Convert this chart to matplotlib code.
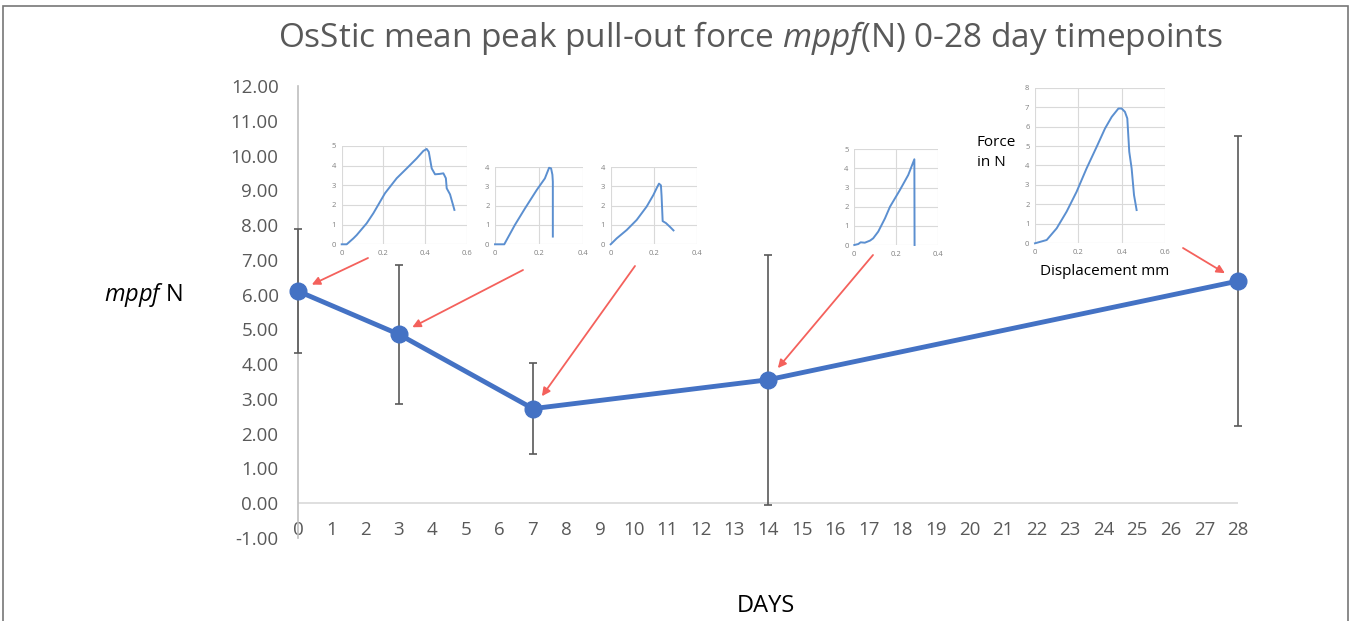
import matplotlib
matplotlib.use("Agg")
import matplotlib.pyplot as plt
from matplotlib.patches import Rectangle

plt.rcParams['font.family'] = ['Open Sans', 'DejaVu Sans']
plt.rcParams['mathtext.fontset'] = 'custom'
plt.rcParams['mathtext.it'] = 'Open Sans:italic'
plt.rcParams['mathtext.rm'] = 'Open Sans'

# ---------------- data ----------------
days = [0, 3, 7, 14, 28]
mppf = [6.10, 4.86, 2.72, 3.55, 6.39]
err = [1.78, 2.00, 1.31, 3.60, 4.17]
x_ticks = list(range(0, 29))
y_ticks = [-1, 0, 1, 2, 3, 4, 5, 6, 7, 8, 9, 10, 11, 12]

# inset force-displacement curves (displacement mm, force N)
c0_x = [0, 0.024, 0.056, 0.072, 0.12, 0.152, 0.208, 0.264, 0.312, 0.36, 0.392, 0.408, 0.418, 0.432, 0.448, 0.47, 0.488, 0.5, 0.504, 0.52, 0.541]
c0_y = [0, 0, 0.3, 0.47, 1.07, 1.58, 2.6, 3.36, 3.86, 4.37, 4.75, 4.85, 4.7, 3.86, 3.56, 3.58, 3.61, 3.36, 2.85, 2.54, 1.75]
c3_x = [0, 0.042, 0.09, 0.136, 0.189, 0.226, 0.245, 0.254, 0.26, 0.262, 0.262]
c3_y = [0, 0, 1.0, 1.86, 2.81, 3.41, 3.96, 3.93, 3.6, 3.24, 0.4]
c7_x = [0, 0.028, 0.074, 0.12, 0.166, 0.197, 0.212, 0.223, 0.232, 0.235, 0.24, 0.255, 0.274, 0.29]
c7_y = [0, 0.31, 0.74, 1.26, 1.95, 2.55, 2.9, 3.14, 3.05, 2.5, 1.2, 1.1, 0.9, 0.72]
c14_x = [0, 0.019, 0.03, 0.05, 0.075, 0.09, 0.114, 0.146, 0.17, 0.217, 0.257, 0.286, 0.287]
c14_y = [0, 0.05, 0.14, 0.12, 0.23, 0.35, 0.7, 1.39, 2.0, 2.87, 3.66, 4.48, 0]
c28_x = [0, 0.054, 0.1, 0.146, 0.192, 0.238, 0.285, 0.323, 0.354, 0.385, 0.4, 0.415, 0.426, 0.435, 0.446, 0.457, 0.469]
c28_y = [0, 0.17, 0.77, 1.63, 2.65, 3.85, 4.97, 5.9, 6.5, 6.93, 6.93, 6.76, 6.42, 4.71, 3.85, 2.48, 1.71]

W, H = 1351, 621
fig = plt.figure(figsize=(W / 100, H / 100), dpi=100)

def px_rect(x0, y0, x1, y1):
    return [x0 / W, 1 - y1 / H, (x1 - x0) / W, (y1 - y0) / H]

# border
fig.patches.append(Rectangle((3 / W, -0.05), (1348 - 3) / W, 1.05 - 6 / H,
                             transform=fig.transFigure, fill=False,
                             edgecolor='#777777', linewidth=1.2))

ax = fig.add_axes(px_rect(298, 86, 1238, 538))
ax.set_xlim(0, 28)
ax.set_ylim(-1, 12)
for s in ['top', 'right', 'bottom']:
    ax.spines[s].set_visible(False)
ax.spines['left'].set_color('#BFBFBF')
ax.spines['left'].set_linewidth(1.2)
ax.axhline(0, color='#D9D9D9', linewidth=1.2, zorder=1)

ax.set_xticks(x_ticks)
ax.set_xticklabels([str(t) for t in x_ticks])
ax.set_yticks(y_ticks)
ax.set_yticklabels([f"{t:.2f}" for t in y_ticks])
ax.tick_params(axis='x', length=0, pad=-12, labelsize=13.5, labelcolor='#595959')
ax.tick_params(axis='y', length=0, pad=14, labelsize=13.5, labelcolor='#595959')

eb = ax.errorbar(days, mppf, yerr=err, fmt='none', ecolor='#595959', elinewidth=1.2,
                 capsize=3, capthick=1.2, zorder=2.8)
for art in eb.lines[1] + eb.lines[2]:
    art.set_clip_on(False)
ax.plot(days, mppf, color='#4472C4', linewidth=3.5, marker='o', markersize=12,
        zorder=3, clip_on=False)

fig.text(750 / W, 1 - 38 / H,
         r"OsStic mean peak pull-out force $\mathit{mppf}$(N) 0-28 day timepoints",
         ha='center', va='center', fontsize=24, color='#595959')
fig.text(143 / W, 1 - 295 / H, r"$\mathit{mppf}$ N", ha='center', va='center',
         fontsize=17, color='black')
fig.text(766 / W, 1 - 606 / H, "DAYS", ha='center', va='center', fontsize=17,
         color='black')

# insets
insets = [
    (c0_x, c0_y, (341.7, 146, 466.7, 244.3), [0, 0.2, 0.4, 0.6], list(range(0, 6))),
    (c3_x, c3_y, (495, 167, 583.3, 244.3), [0, 0.2, 0.4], list(range(0, 5))),
    (c7_x, c7_y, (610.7, 167, 697.3, 244.3), [0, 0.2, 0.4], list(range(0, 5))),
    (c14_x, c14_y, (854.3, 149.3, 938.3, 245), [0, 0.2, 0.4], list(range(0, 6))),
    (c28_x, c28_y, (1035, 87.7, 1165, 243.3), [0, 0.2, 0.4, 0.6], list(range(0, 9))),
]
for cx, cy, r, xt, yt in insets:
    ia = fig.add_axes(px_rect(*r))
    ia.set_xlim(xt[0], xt[-1])
    ia.set_ylim(yt[0], yt[-1])
    ia.set_xticks(xt)
    ia.set_xticklabels(['0' if v == 0 else f"{v:g}" for v in xt])
    ia.set_yticks(yt)
    ia.set_yticklabels([str(v) for v in yt])
    ia.grid(True, color='#D9D9D9', linewidth=0.8)
    ia.set_axisbelow(True)
    for s in ia.spines.values():
        s.set_visible(False)
    ia.tick_params(length=0, labelsize=5.5, labelcolor='#808080', pad=4)
    ia.plot(cx, cy, color='#5B8FD0', linewidth=1.4, clip_on=False)

fig.text(977 / W, 1 - 143 / H, "Force", ha='left', va='center', fontsize=11)
fig.text(977 / W, 1 - 162 / H, "in N", ha='left', va='center', fontsize=11)
fig.text(1105 / W, 1 - 272 / H, "Displacement mm", ha='center', va='center', fontsize=11)

# red arrows
arrow_tails = [(368, 258), (523, 270), (635, 266), (873, 255), (1183, 248)]
for (tx, ty), d, v in zip(arrow_tails, days, mppf):
    ann = ax.annotate('', xy=(d, v), xycoords='data',
                      xytext=(tx / W, 1 - ty / H), textcoords='figure fraction',
                      arrowprops=dict(arrowstyle='-|>', color='#F4615C', lw=1.3,
                                      mutation_scale=12, shrinkA=0, shrinkB=11),
                      zorder=5)
    ann.set_clip_on(False)

fig.savefig('out.png', dpi=100)
